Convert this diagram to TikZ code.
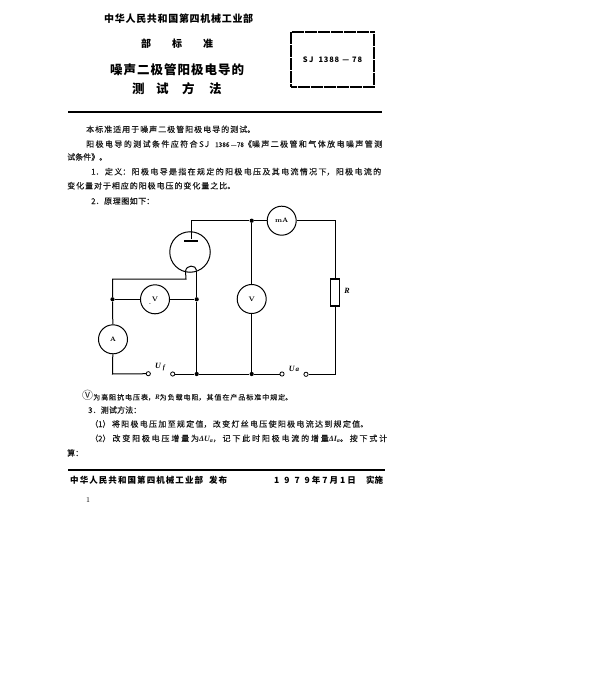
\documentclass[tikz,border=0pt]{standalone}
\usepackage{fontspec}
\newfontfamily\cjk{Noto Sans CJK SC}
\newfontfamily\cjkm[FakeBold=0.25]{Noto Sans CJK SC}
\newfontfamily\lib{Liberation Serif}
\XeTeXlinebreaklocale "zh"
\XeTeXlinebreakskip=0pt plus 8pt minus 1pt
\newcommand\fl[2]{\parbox[c]{#1pt}{\tolerance=9999\hbadness=10000\hfuzz=5pt\parindent=0pt\parfillskip=0pt\relax #2}}
\newcommand\ita[1]{{\lib\itshape\bfseries #1}}
\tikzset{
  txt/.style={anchor=west,inner sep=0pt,font=\cjkm\fontsize{8}{9}\selectfont,text=black!90},
  hd/.style={anchor=west,inner sep=0pt,font=\cjk\bfseries\fontsize{10}{11}\selectfont,text=black},
  ttl/.style={anchor=west,inner sep=0pt,font=\cjk\bfseries\fontsize{12.5}{13}\selectfont,text=black},
  meter/.style={circle,draw=black,line width=1pt,fill=white,minimum size=29pt,inner sep=0pt,font=\bfseries\fontsize{6.5}{7}\selectfont},
  wire/.style={draw=black,line width=1pt},
  dotj/.style={circle,fill=black,minimum size=4.2pt,inner sep=0pt},
  term/.style={circle,draw=black,line width=0.8pt,fill=white,minimum size=4.2pt,inner sep=0pt},
  lab/.style={inner sep=0pt,font=\lib\bfseries\itshape\fontsize{8}{8}\selectfont},
  rule/.style={draw=black,line width=1.1pt}
}
\begin{document}
\begin{tikzpicture}[x=1pt,y=-1pt]
\useasboundingbox[fill=white] (0,0) rectangle (600,676);
% header
\node[hd] (h1) at (104,19) {\fl{149}{中华人民共和国第四机械工业部}};
\node[hd] (h2a) at (141,43.7) {部};
\node[hd] (h2b) at (172,43.7) {标};
\node[hd] (h2c) at (203,43.7) {准};
\node[ttl] (t1) at (110,70) {\fl{134}{噪声二极管阳极电导的}};
\node[ttl] (t2a) at (132,89) {测};
\node[ttl] (t2b) at (156,89) {试};
\node[ttl] (t2c) at (182,89) {方};
\node[ttl] (t2d) at (209,89) {法};
\node[draw=black,line width=1.2pt,dash pattern=on 6pt off 0.5pt,minimum width=83pt,minimum height=55pt,inner sep=0pt,font=\cjk\bfseries\fontsize{7.5}{8}\selectfont] (code) at (332.5,59.5) {S\hspace{1.5pt}J\hspace{5pt}1\hspace{0.8pt}3\hspace{0.8pt}8\hspace{0.8pt}8\hspace{3pt}—\hspace{3pt}7\hspace{0.8pt}8};
\coordinate (r1a) at (68,112); \coordinate (r1b) at (382,112);
\draw[rule] (r1a) -- (r1b);
% body
\node[txt] (b1) at (86,129.3) {\fl{169}{本标准适用于噪声二极管阳极电导的测试。}};
\node[txt] (b2) at (86,144) {\fl{296}{阳极电导的测试条件应符合S\hspace{1pt}J\hspace{6pt}{\fontsize{6.5}{7}\selectfont 1386—78}《噪声二极管和气体放电噪声管测}};
\node[txt] (b3) at (67,157) {试条件》。};
\node[txt] (b4) at (91,171.7) {\fl{290}{1．定义：阳极电导是指在规定的阳极电压及其电流情况下，阳极电流的}};
\node[txt] (b5) at (67,185.7) {\fl{168}{变化量对于相应的阳极电压的变化量之比。}};
\node[txt] (b6) at (91,201) {\fl{63}{2．原理图如下：}};
% circuit
\node[meter] (mA) at (281.7,220.7) {mA};
\node[circle,draw=black,line width=1pt,minimum size=40.5pt,inner sep=0pt] (tube) at (190,252) {};
\node[fill=black,minimum width=14pt,minimum height=2.8pt,inner sep=0pt] (anode) at (191,241) {};
\node[meter] (Vm) at (251.7,299) {V};
\node[meter] (Vf) at (155,299.3) {V};
\node[meter] (A) at (113,339.3) {A};
\node[draw=black,line width=1.4pt,fill=white,minimum width=9.5pt,minimum height=27pt,inner sep=0pt] (R) at (335,292.5) {};
\node[dotj] (ja) at (251.7,220.7) {};
\node[dotj] (jl) at (112.5,299.3) {};
\node[dotj] (jc) at (196.7,299.3) {};
\node[dotj] (jb1) at (196.7,374) {};
\node[dotj] (jb2) at (251.7,374) {};
\node[term] (tf1) at (148.3,373.7) {};
\node[term] (tf2) at (172.7,374) {};
\node[term] (ta1) at (282,374) {};
\node[term] (ta2) at (306,374.3) {};
\coordinate (kl) at (185.5,271.5);
\coordinate (kr) at (196.7,270.5);
\coordinate (fl1) at (186,279);
\coordinate (fl2) at (112.5,279);
\coordinate (a1) at (191,220.7);
\coordinate (cr) at (335,220.7);
\coordinate (cb) at (335,374.3);
\coordinate (al) at (112.5,374);
\draw[wire] (anode) -- (a1) -- (ja) -- (mA) -- (cr) -- (R) -- (cb) -- (ta2);
\draw[wire] (ja) -- (Vm) -- (jb2);
\draw[wire] (kl) .. controls (186,264.5) and (196,264.5) .. (kr);
\draw[wire] (kl) -- (fl1) -- (fl2) -- (jl) -- (A);
\draw[wire] (jl) -- (Vf) -- (jc);
\draw[wire] (kr) -- (jc) -- (jb1);
\draw[wire] (A) -- (al) -- (tf1);
\draw[wire] (tf2) -- (jb1) -- (jb2) -- (ta1);
\node[lab] (Uf) at (160,367) {U\kern2pt\raisebox{-1pt}{\fontsize{6.5}{7}\selectfont f}};
\node[lab] (Ua) at (294,369) {U\kern1pt{\fontsize{7}{7}\selectfont a}};
\node[lab] (Rl) at (347,291) {R};
\node[inner sep=0pt,font=\bfseries\fontsize{6}{6}\selectfont] (dot) at (150,304) {.};
% lower text
\node[txt,font=\cjkm\fontsize{7}{8}\selectfont] (n1) at (82,395.7) {\fl{210}{{\cjk\fontsize{11}{11}\selectfont Ⓥ}为高阻抗电压表，\ita{R}为负载电阻，其值在产品标准中规定。}};
\node[txt] (c1) at (88,410) {\fl{53}{3．测试方法：}};
\node[txt] (c2) at (90,424) {\fl{278}{（1）将阳极电压加至规定值，改变灯丝电压使阳极电流达到规定值。}};
\node[txt] (c3) at (90,438.5) {\fl{297}{（2）改变阳极电压增量为\ita{ΔU\raisebox{-1pt}{\fontsize{6}{6}\selectfont a}}，记下此时阳极电流的增量\ita{ΔI\raisebox{-1pt}{\fontsize{6}{6}\selectfont a}}。按下式计}};
\node[txt] (c4) at (67,453) {\fl{14}{算：}};
\coordinate (r2a) at (68,470); \coordinate (r2b) at (385,470);
\draw[rule] (r2a) -- (r2b);
\node[hd,font=\cjk\bfseries\fontsize{8.5}{9}\selectfont] (f1) at (70,480) {\fl{157}{中华人民共和国第四机械工业部\hspace{6pt}发布}};
\node[hd,font=\cjk\bfseries\fontsize{8.5}{9}\selectfont] (f2) at (274,480) {1\hspace{5pt}9\hspace{5pt}7\hspace{5pt}9\hspace{2pt}年\hspace{2pt}7\hspace{2pt}月\hspace{2pt}1\hspace{2pt}日};
\node[hd,font=\cjk\bfseries\fontsize{8.5}{9}\selectfont] (f3) at (366,480) {实施};
\node[inner sep=0pt,font=\fontsize{7.5}{8}\selectfont] (pg) at (88,500) {1};
\end{tikzpicture}
\end{document}
